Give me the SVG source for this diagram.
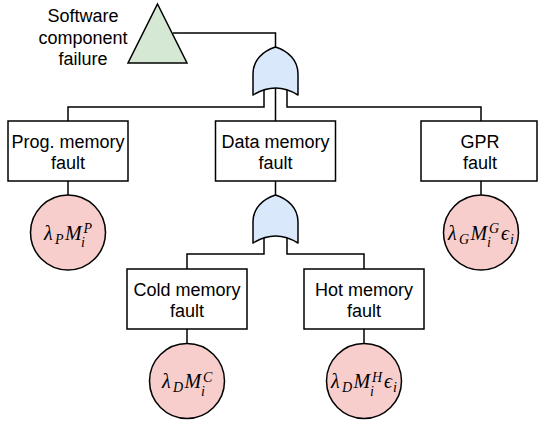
<svg xmlns="http://www.w3.org/2000/svg" width="538" height="424" viewBox="0 0 538 424">
<style>
.ln{fill:none;stroke:#000;stroke-width:1.5}
.bx{fill:#fff;stroke:#000;stroke-width:1.5}
.gate{fill:#dae8fc;stroke:#000;stroke-width:1.5;stroke-linejoin:round}
.ev{fill:#f8cecc;stroke:#000;stroke-width:1.5}
.tri{fill:#d5e8d4;stroke:#000;stroke-width:1.5;stroke-linejoin:miter}
.t{font-family:"Liberation Sans",Arial,sans-serif;font-size:18px;fill:#000;text-anchor:middle}
.m{font-family:"Liberation Serif","DejaVu Serif",serif;font-style:italic;font-size:20px;fill:#000}
.s{font-size:14px}
</style>
<rect width="538" height="424" fill="#fff"/>
<g id="connectors">
<path class="ln" d="M173,33 H275.5 V47"/>
<path class="ln" d="M264,89.8 V107 H68 V121"/>
<path class="ln" d="M275.5,88 V121"/>
<path class="ln" d="M287,89.8 V107 H481 V121"/>
<path class="ln" d="M275.5,181 V195"/>
<path class="ln" d="M264,237.8 V254 H187 V269"/>
<path class="ln" d="M287,237.8 V254 H364 V269"/>
<path class="ln" d="M68,181 V195"/>
<path class="ln" d="M481,181 V195"/>
<path class="ln" d="M187,329 V343.5"/>
<path class="ln" d="M364,329 V343.5"/>
</g>
<g id="top-event">
<path class="tri" d="M157.5,4 L187,63 L128,63 Z"/>
<text class="t" x="83" y="22">Software</text>
<text class="t" x="83" y="43.5">component</text>
<text class="t" x="83" y="65">failure</text>
</g>
<g id="or-gate-1">
<path class="gate" d="M253,95 L253,74 C253,60 263,51 275.5,47 C288,51 298,60 298,74 L298,95 Q275.5,81 253,95 Z"/>
</g>
<g id="prog-memory-fault">
<rect class="bx" x="8" y="121" width="120" height="60"/>
<text class="t" x="68" y="148">Prog. memory</text>
<text class="t" x="68" y="169">fault</text>
</g>
<g id="data-memory-fault">
<rect class="bx" x="215.5" y="121" width="120" height="60"/>
<text class="t" x="275.5" y="148">Data memory</text>
<text class="t" x="275.5" y="169">fault</text>
</g>
<g id="gpr-fault">
<rect class="bx" x="421" y="121" width="116" height="60"/>
<text class="t" x="480" y="148">GPR</text>
<text class="t" x="480" y="169">fault</text>
</g>
<g id="or-gate-2">
<path class="gate" d="M253,243 L253,222 C253,208 263,199 275.5,195 C288,199 298,208 298,222 L298,243 Q275.5,229 253,243 Z"/>
</g>
<g id="cold-memory-fault">
<rect class="bx" x="127" y="269" width="120" height="60"/>
<text class="t" x="187" y="296">Cold memory</text>
<text class="t" x="187" y="317">fault</text>
</g>
<g id="hot-memory-fault">
<rect class="bx" x="304" y="269" width="120" height="60"/>
<text class="t" x="364" y="296">Hot memory</text>
<text class="t" x="364" y="317">fault</text>
</g>
<g id="event-prog">
<circle class="ev" cx="68" cy="232.5" r="37.5"/>
<text class="m"><tspan x="44" y="239.5">λ</tspan><tspan class="s" x="55" y="243.5">P</tspan><tspan x="65" y="239.5">M</tspan><tspan class="s" x="81" y="247">i</tspan><tspan class="s" x="83.5" y="233">P</tspan></text>
</g>
<g id="event-gpr">
<circle class="ev" cx="481" cy="232.5" r="37.5"/>
<text class="m"><tspan x="448" y="239.5">λ</tspan><tspan class="s" x="459" y="243.5">G</tspan><tspan x="470.5" y="239.5">M</tspan><tspan class="s" x="487" y="247">i</tspan><tspan class="s" x="489" y="233">G</tspan><tspan x="501" y="239.5">ϵ</tspan><tspan class="s" x="510" y="243.5">i</tspan></text>
</g>
<g id="event-cold">
<circle class="ev" cx="187" cy="381" r="37.5"/>
<text class="m"><tspan x="162" y="388">λ</tspan><tspan class="s" x="173" y="392">D</tspan><tspan x="184.5" y="388">M</tspan><tspan class="s" x="201" y="395.5">i</tspan><tspan class="s" x="203" y="381.5">C</tspan></text>
</g>
<g id="event-hot">
<circle class="ev" cx="364" cy="381" r="37.5"/>
<text class="m"><tspan x="331" y="388">λ</tspan><tspan class="s" x="342" y="392">D</tspan><tspan x="353.5" y="388">M</tspan><tspan class="s" x="370" y="395.5">i</tspan><tspan class="s" x="372" y="381.5">H</tspan><tspan x="384" y="388">ϵ</tspan><tspan class="s" x="393" y="392">i</tspan></text>
</g>
</svg>
